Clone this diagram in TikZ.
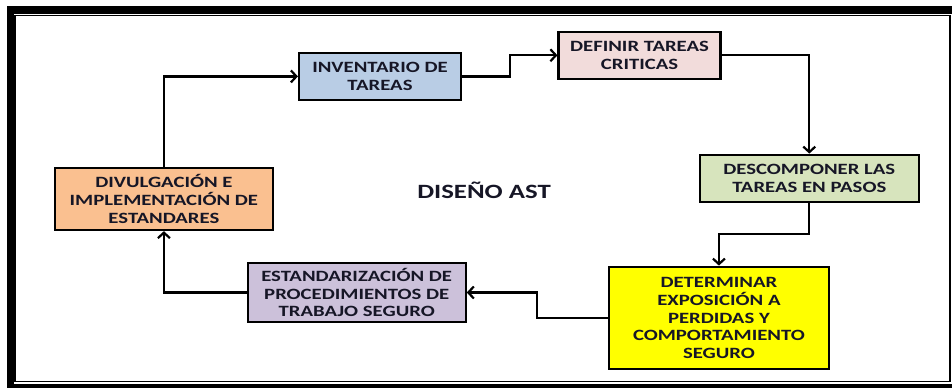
\documentclass[tikz,border=0pt]{standalone}
\usepackage{fontspec}
\usepackage{tikz}
\usetikzlibrary{positioning,calc,arrows.meta}
\newfontfamily\boxfont{Carlito}[FakeStretch=1.32]
\definecolor{inv}{HTML}{B9CDE5}
\definecolor{def}{HTML}{F2DCDB}
\definecolor{desc}{HTML}{D7E4BD}
\definecolor{det}{HTML}{FFFF00}
\definecolor{est}{HTML}{CCC1DA}
\definecolor{div}{HTML}{FAC090}
\definecolor{txt}{RGB}{22,22,38}

\begin{document}
\begin{tikzpicture}[x=1pt, y=-1pt,
	paso/.style={draw, line width=2.2pt, align=center, text=txt, inner sep=2pt,
		font=\boxfont\bfseries\fontsize{15.7}{17.7}\selectfont},
	flecha/.style={draw, line width=2.2pt, -{Straight Barb[length=5.5pt,width=12pt]}}]
	\useasboundingbox (0, 0) rectangle (952, 388);
	% marco
	\fill (7, 6) rectangle (952, 14);
	\fill (7, 6) rectangle (14, 388);
	\fill (7, 383.5) rectangle (952, 388);
	\draw [line width=1.2pt] (15, 15.5) rectangle (950, 381.5);

	\node [paso, fill=inv, minimum width=162pt, minimum height=47.5pt] (INV) at (380, 76.4) {INVENTARIO DE\\TAREAS};
	\node [paso, fill=def, minimum width=162pt, minimum height=47.3pt] (DEF) at (639.5, 55.3) {DEFINIR TAREAS\\CRITICAS};
	\node [paso, fill=desc, minimum width=218.6pt, minimum height=47pt] (DESC) at (809.3, 178.2) {DESCOMPONER LAS\\TAREAS EN PASOS};
	\node [paso, fill=det, minimum width=219.7pt, minimum height=102.6pt] (DET) at (718.9, 318) {DETERMINAR\\EXPOSICIÓN A\\PERDIDAS Y\\COMPORTAMIENTO\\SEGURO};
	\node [paso, fill=est, minimum width=218pt, minimum height=59.6pt] (EST) at (356.7, 292.5) {ESTANDARIZACIÓN DE\\PROCEDIMIENTOS DE\\TRABAJO SEGURO};
	\node [paso, fill=div, minimum width=218.6pt, minimum height=62.3pt] (DIV) at (163.9, 198.9) {DIVULGACIÓN E\\IMPLEMENTACIÓN DE\\ESTANDARES};
	\node [text=txt, font=\boxfont\bfseries\fontsize{20.3}{24}\selectfont] (AST) at (484, 190) {DISEÑO AST};

	\path [flecha] (DIV.north) |- (INV.west);
	\path [flecha] (INV.east) -| ($(INV.east)!0.5!(DEF.west)$) |- (DEF.west);
	\path [flecha] (DEF.east) -| (DESC.north);
	\path [flecha] (DESC.south) |- ($(DESC.south)!0.5!(DET.north)$) -| (DET.north);
	\path [flecha] (DET.west) -| ($(DET.west)!0.5!(EST.east)$) |- (EST.east);
	\path [flecha] (EST.west) -| (DIV.south);
\end{tikzpicture}
\end{document}
